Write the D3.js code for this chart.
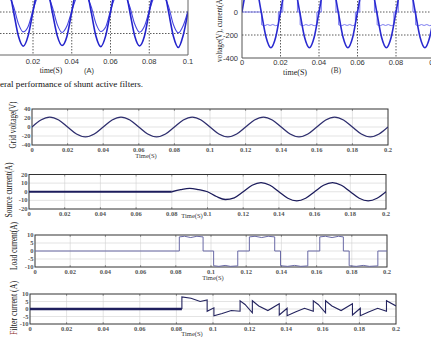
<!DOCTYPE html>
<html>
<head>
<meta charset="utf-8">
<script src="https://d3js.org/d3.v7.min.js"></script>
<style>body{margin:0;background:#fff}</style>
</head>
<body>
<script>
// ---- top scopes (A) and (B), sampled every 2.5 ms
const stepAB = 0.0025;
const voltA = [0,220,312,226,0,-226,-318,-220, 5,225,318,220,-4,-220,-312,-228, 2,222,315,224,3,-225,-322,-222, -3,226,310,221,0,-224,-316,-226, 4,219,317,225,-2,-228,-330,-218, 0];
const currA = [10,140,185,150,50,-110,-185,-135, 15,145,180,155,45,-115,-190,-130, 8,138,188,148,52,-108,-182,-140, 12,142,184,152,47,-112,-188,-133, 10,140,186,150,50,-118,-194,-128, 10];
const voltB = [0,220,311,220,0,-220,-311,-220, 0,220,311,220,0,-220,-311,-220, 0,220,311,220,0,-220,-311,-220, 0,220,311,220,0,-220,-311,-220, 0,220,311,220,0,-220,-311,-220, 0];
const currB = [[0,0],[0.0102,0],[0.0102,-112],[0.0118,-119],[0.0132,-109],[0.0146,-117],[0.016,-109],[0.0175,-119],[0.0189,-112],[0.0189,0],[0.0212,0],[0.0212,120],[0.0288,120],[0.0288,0],
  [0.0302,0],[0.0302,-112],[0.0318,-119],[0.0332,-109],[0.0346,-117],[0.036,-109],[0.0375,-119],[0.0389,-112],[0.0389,0],[0.0412,0],[0.0412,120],[0.0488,120],[0.0488,0],
  [0.0502,0],[0.0502,-112],[0.0518,-119],[0.0532,-109],[0.0546,-117],[0.056,-109],[0.0575,-119],[0.0589,-112],[0.0589,0],[0.0612,0],[0.0612,120],[0.0688,120],[0.0688,0],
  [0.0702,0],[0.0702,-112],[0.0718,-119],[0.0732,-109],[0.0746,-117],[0.076,-109],[0.0775,-119],[0.0789,-112],[0.0789,0],[0.0812,0],[0.0812,120],[0.0888,120],[0.0888,0],
  [0.0902,0],[0.0902,-112],[0.0918,-119],[0.0932,-109],[0.0946,-117],[0.096,-109],[0.0975,-119],[0.0989,-112],[0.0989,0],[0.1,0]];
const ticksAB = [0, 0.02, 0.04, 0.06, 0.08, 0.1];

// ---- lower four plots
const timeTicks = [0,0.02,0.04,0.06,0.08,0.1,0.12,0.14,0.16,0.18,0.2];
const gridVolt = [0,15.5,22,15.5,0,-15.5,-22,-15.5, 0,15.5,22,15.5,0,-15.5,-22,-15.5, 0,15.5,22,15.5,0,-15.5,-22,-15.5, 0,15.5,22,15.5,0,-15.5,-22,-15.5, 0,15.5,22,15.5,0,-15.5,-22,-15.5, 0]; // every 5 ms from 0
const srcStart = 0.08;
const srcCur = [0,2.5,4,2.5,0,-5.5,-9,-7,0,7.5,10.5,7.5,0,-7.5,-10.5,-7.5,0,7.5,10.5,7.5,0,-7.5,-10.5,-7.5,0]; // every 5 ms from 0.08
const loadCur = [[0,0],[0.082,0],[0.082,8.8],[0.085,9.2],[0.0885,8.4],[0.092,9.2],[0.0955,8.8],[0.0955,0],
  [0.1015,0],[0.1015,-9.2],[0.1045,-9.6],[0.108,-9.0],[0.111,-9.6],[0.1152,-9.3],[0.1152,0],
  [0.1218,0],[0.1218,8.8],[0.125,9.2],[0.1288,8.4],[0.1325,9.2],[0.1362,8.8],[0.1362,0],
  [0.1395,0],[0.1395,-9.2],[0.1435,-9.6],[0.1475,-9.0],[0.151,-9.6],[0.155,-9.3],[0.155,0],
  [0.1618,0],[0.1618,8.8],[0.165,9.2],[0.1688,8.4],[0.1725,9.2],[0.1752,8.8],[0.1752,0],
  [0.1785,0],[0.1785,-9.2],[0.1825,-9.6],[0.1865,-9.0],[0.19,-9.6],[0.1948,-9.3],[0.1948,0],[0.2,0]];
const filtStart = 0.083;
const filtCur = [[0.083,0],[0.083,8],[0.088,7.2],[0.093,5],[0.0968,6],[0.0968,-1.5],[0.1005,0.8],[0.1005,-4.5],[0.105,-3],[0.11,-1],
  [0.1148,-1.5],[0.1148,5.5],[0.1175,3],[0.1215,-2.5],[0.1215,5.5],[0.125,2],[0.13,-1],[0.1362,3.5],[0.1362,-4],[0.1405,0.5],[0.1405,-4.5],[0.145,-2],[0.15,0.5],
  [0.1548,-1.5],[0.1548,5.5],[0.1575,3],[0.1615,-2.5],[0.1615,5.5],[0.165,2],[0.17,-1],[0.1762,3.5],[0.1762,-4],[0.1805,0.5],[0.1805,-4.5],[0.185,-2],[0.19,0.5],
  [0.1948,-1.5],[0.1948,5.5],[0.2,2]];

const svg = d3.select("body").append("svg")
  .attr("width", 431).attr("height", 337).style("display", "block");
const defs = svg.append("defs");
let clipN = 0;
function clip(x0, y0, x1, y1) {
  const id = "c" + (clipN++);
  defs.append("clipPath").attr("id", id).append("rect")
    .attr("x", x0).attr("y", y0).attr("width", x1 - x0).attr("height", y1 - y0);
  return "url(#" + id + ")";
}
const fmt = d => d === 0 ? "0" : d3.format(".2~f")(d);

// ================= (A) =================
const xA = d3.scaleLinear().domain([0, 0.1]).range([-5.75, 188]);
const yA = d3.scaleLinear().domain([-400, 0]).range([55, 12]);
const gA = svg.append("g");
gA.selectAll("line.v").data(ticksAB.slice(1, -1)).join("line")
  .attr("x1", d => xA(d)).attr("x2", d => xA(d)).attr("y1", -5).attr("y2", 55)
  .attr("stroke", "#333").attr("stroke-width", 0.8).attr("stroke-dasharray", "1.5,1.5");
gA.selectAll("line.h").data([0, -200]).join("line")
  .attr("x1", 0).attr("x2", 188).attr("y1", d => yA(d)).attr("y2", d => yA(d))
  .attr("stroke", "#333").attr("stroke-width", 0.8).attr("stroke-dasharray", "1.5,1.5");
const cA = clip(-6, -5, 188, 55);
const lineA = d3.line().x((d, i) => xA(i * stepAB)).y(d => yA(d)).curve(d3.curveMonotoneX);
gA.append("path").datum(currA).attr("clip-path", cA).attr("fill", "none")
  .attr("stroke", "#4545e0").attr("stroke-width", 1.1).attr("d", lineA);
gA.append("path").datum(voltA).attr("clip-path", cA).attr("fill", "none")
  .attr("stroke", "#2424cc").attr("stroke-width", 1.6).attr("d", lineA);
gA.append("path").attr("d", "M188,-2V55H-2").attr("fill", "none").attr("stroke", "#666").attr("stroke-width", 1);
gA.selectAll("text.xt").data(ticksAB.slice(1)).join("text")
  .attr("x", d => xA(d)).attr("y", 64).attr("text-anchor", "middle")
  .attr("font-family", "Liberation Sans, Arial").attr("font-size", 7.5).attr("fill", "#333").text(fmt);
gA.append("text").attr("x", 51).attr("y", 73).attr("text-anchor", "middle")
  .attr("font-family", "Liberation Serif").attr("font-size", 7.5).attr("fill", "#222").text("time(S)");
gA.append("text").attr("x", 89).attr("y", 73).attr("text-anchor", "middle")
  .attr("font-family", "Liberation Sans").attr("font-size", 7.5).attr("fill", "#333").text("(A)");
svg.append("text").attr("x", 0).attr("y", 87).attr("textLength", 143).attr("lengthAdjust", "spacingAndGlyphs")
  .attr("font-family", "Liberation Serif").attr("font-size", 8.5).attr("fill", "#111")
  .text("eral performance of shunt active filters.");

// ================= (B) =================
const xB = d3.scaleLinear().domain([0, 0.1]).range([242, 434.5]);
const yB = d3.scaleLinear().domain([-400, 0]).range([58, 12]);
const gB = svg.append("g");
gB.selectAll("line.v").data(ticksAB.slice(1, -1)).join("line")
  .attr("x1", d => xB(d)).attr("x2", d => xB(d)).attr("y1", -5).attr("y2", 58)
  .attr("stroke", "#333").attr("stroke-width", 0.8).attr("stroke-dasharray", "1.5,1.5");
gB.selectAll("line.h").data([0, -200]).join("line")
  .attr("x1", 242).attr("x2", 434).attr("y1", d => yB(d)).attr("y2", d => yB(d))
  .attr("stroke", "#333").attr("stroke-width", 0.8).attr("stroke-dasharray", "1.5,1.5");
const cB = clip(242, -5, 434.5, 58);
const lineB = d3.line().x((d, i) => xB(i * stepAB)).y(d => yB(d)).curve(d3.curveMonotoneX);
const lineB2 = d3.line().x(d => xB(d[0])).y(d => yB(d[1]));
gB.append("path").datum(currB).attr("clip-path", cB).attr("fill", "none")
  .attr("stroke", "#7b7bf0").attr("stroke-width", 1).attr("d", lineB2);
gB.append("path").datum(voltB).attr("clip-path", cB).attr("fill", "none")
  .attr("stroke", "#2a2ad0").attr("stroke-width", 1.6).attr("d", lineB);
gB.append("path").attr("d", "M242,-2V58H434").attr("fill", "none").attr("stroke", "#555").attr("stroke-width", 1);
gB.selectAll("text.xt").data(ticksAB).join("text")
  .attr("x", d => xB(d)).attr("y", 65).attr("text-anchor", "middle")
  .attr("font-family", "Liberation Sans, Arial").attr("font-size", 7.5).attr("fill", "#333").text(fmt);
gB.selectAll("text.yt").data([0, -200, -400]).join("text")
  .attr("x", 238).attr("y", d => yB(d) + 2.5).attr("text-anchor", "end")
  .attr("font-family", "Liberation Sans, Arial").attr("font-size", 7.5).attr("fill", "#333").text(d => d);
gB.append("text").attr("x", 295).attr("y", 75).attr("text-anchor", "middle")
  .attr("font-family", "Liberation Serif").attr("font-size", 8).attr("fill", "#222").text("time(S)");
gB.append("text").attr("x", 336).attr("y", 73).attr("text-anchor", "middle")
  .attr("font-family", "Liberation Serif").attr("font-size", 7.5).attr("fill", "#333").text("(B)");
gB.append("text").attr("transform", "translate(222,62) rotate(-90)")
  .attr("font-family", "Liberation Serif").attr("font-size", 7.2).attr("fill", "#222")
  .text("voltage(V), current(A)");

// ================= lower scopes =================
function scope(cfg) {
  const x = d3.scaleLinear().domain([0, 0.2]).range([cfg.x0, cfg.x1]);
  const y = d3.scaleLinear().domain(cfg.yDom).range([cfg.y1, cfg.y0]);
  const g = svg.append("g");
  g.selectAll("line.v").data(timeTicks.slice(1, -1)).join("line")
    .attr("x1", d => x(d)).attr("x2", d => x(d)).attr("y1", cfg.y0).attr("y2", cfg.y1)
    .attr("stroke", "#d2d2d2").attr("stroke-width", 0.6);
  g.selectAll("line.h").data(cfg.yTicks.slice(1, -1)).join("line")
    .attr("x1", cfg.x0).attr("x2", cfg.x1).attr("y1", d => y(d)).attr("y2", d => y(d))
    .attr("stroke", "#d2d2d2").attr("stroke-width", 0.6);
  // small tick marks top & bottom
  g.selectAll("line.tk").data(timeTicks.slice(1, -1)).join("line")
    .attr("x1", d => x(d)).attr("x2", d => x(d)).attr("y1", cfg.y1 - 2).attr("y2", cfg.y1)
    .attr("stroke", "#777").attr("stroke-width", 0.7);
  g.selectAll("line.tk2").data(timeTicks.slice(1, -1)).join("line")
    .attr("x1", d => x(d)).attr("x2", d => x(d)).attr("y1", cfg.y0).attr("y2", cfg.y0 + 2)
    .attr("stroke", "#777").attr("stroke-width", 0.7);
  g.append("rect").attr("x", cfg.x0).attr("y", cfg.y0).attr("width", cfg.x1 - cfg.x0).attr("height", cfg.y1 - cfg.y0)
    .attr("fill", "none").attr("stroke", "#333").attr("stroke-width", 1);
  g.selectAll("text.xt").data(timeTicks).join("text")
    .attr("x", d => x(d)).attr("y", cfg.y1 + 6.5).attr("text-anchor", "middle")
    .attr("font-family", "Liberation Serif").attr("font-weight", "bold")
    .attr("font-size", 6.5).attr("fill", "#555").text(fmt);
  g.selectAll("text.yt").data(cfg.yTicks).join("text")
    .attr("x", cfg.x0 - 1.5).attr("y", d => y(d) + 2).attr("text-anchor", "end")
    .attr("font-family", "Liberation Serif").attr("font-weight", "bold")
    .attr("font-size", 6.5).attr("fill", "#555").text(d => d);
  g.append("text").attr("x", cfg.tx).attr("y", cfg.ty).attr("text-anchor", "middle")
    .attr("font-family", "Liberation Serif").attr("font-size", 6.5).attr("fill", "#333").text("Time(S)");
  const lab = g.append("text")
    .attr("transform", `translate(${cfg.lx},${cfg.ly}) rotate(-90)`)
    .attr("text-anchor", "middle").attr("dominant-baseline", "central")
    .attr("textLength", cfg.lLen).attr("lengthAdjust", "spacingAndGlyphs")
    .attr("font-family", "Liberation Serif").attr("font-size", 9.5).attr("fill", "#222");
  if (cfg.redFirst) {
    lab.append("tspan").attr("fill", "#8a2a1a").text(cfg.label[0]);
    lab.append("tspan").text(cfg.label.slice(1));
  } else lab.text(cfg.label);
  const cp = clip(cfg.x0, cfg.y0, cfg.x1, cfg.y1);
  return { x, y, g, cp };
}

// 1 grid voltage
const s1 = scope({ x0: 32, x1: 388, y0: 109, y1: 145, yDom: [-40, 40], yTicks: [-40, -20, 0, 20, 40],
  tx: 146, ty: 157.5, lx: 13, ly: 125, lLen: 47, label: "Grid voltage(V)" });
s1.g.append("path").datum(gridVolt).attr("clip-path", s1.cp).attr("fill", "none")
  .attr("stroke", "#2e2e6e").attr("stroke-width", 1.3)
  .attr("d", d3.line().x((d, i) => s1.x(i * 0.005)).y(d => s1.y(d)).curve(d3.curveMonotoneX));

// 2 source current
const s2 = scope({ x0: 29, x1: 386, y0: 174.5, y1: 209, yDom: [-20, 20], yTicks: [-20, -10, 0, 10, 20],
  tx: 192, ty: 218, lx: 9, ly: 190, lLen: 55, label: "Source current(A)" });
s2.g.append("path").datum([[0, 0], [srcStart, 0]]).attr("fill", "none")
  .attr("stroke", "#1c1c5c").attr("stroke-width", 2)
  .attr("d", d3.line().x(d => s2.x(d[0])).y(d => s2.y(d[1])));
s2.g.append("path").datum(srcCur).attr("clip-path", s2.cp).attr("fill", "none")
  .attr("stroke", "#1c1c5c").attr("stroke-width", 1.3)
  .attr("d", d3.line().x((d, i) => s2.x(srcStart + i * 0.005)).y(d => s2.y(d)).curve(d3.curveMonotoneX));

// 3 load current
const s3 = scope({ x0: 35, x1: 387, y0: 235, y1: 267, yDom: [-10, 10], yTicks: [-10, -5, 0, 5, 10],
  tx: 213, ty: 279.5, lx: 14, ly: 246, lLen: 48, label: "Load current(A)" });
s3.g.append("path").datum(loadCur).attr("clip-path", s3.cp).attr("fill", "none")
  .attr("stroke", "#6a6aa6").attr("stroke-width", 1)
  .attr("d", d3.line().x(d => s3.x(d[0])).y(d => s3.y(d[1])));

// 4 filter current
const s4 = scope({ x0: 30, x1: 396, y0: 294, y1: 324, yDom: [-10, 10], yTicks: [-10, -5, 0, 5, 10],
  tx: 192, ty: 336, lx: 14, ly: 308, lLen: 54, label: "Filter current (A)", redFirst: true });
s4.g.append("path").datum([[0, 0], [filtStart, 0]]).attr("fill", "none")
  .attr("stroke", "#1f1f5e").attr("stroke-width", 2.4)
  .attr("d", d3.line().x(d => s4.x(d[0])).y(d => s4.y(d[1])));
s4.g.append("path").datum(filtCur).attr("clip-path", s4.cp).attr("fill", "none")
  .attr("stroke", "#23235e").attr("stroke-width", 1.1)
  .attr("d", d3.line().x(d => s4.x(d[0])).y(d => s4.y(d[1])));
</script>
</body>
</html>
